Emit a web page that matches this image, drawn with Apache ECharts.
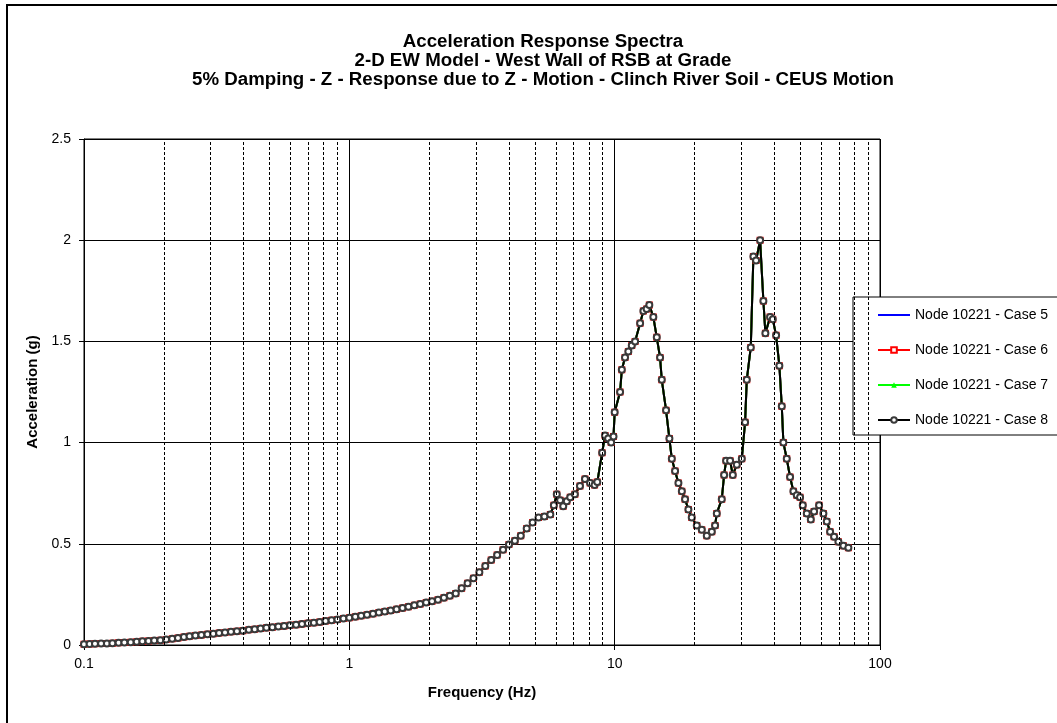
<!DOCTYPE html>
<html>
<head>
<meta charset="utf-8">
<script src="https://cdn.jsdelivr.net/npm/echarts@6/dist/echarts.min.js"></script>
<style>
html,body{margin:0;padding:0;background:#fff;}
#chart{width:1057px;height:723px;}
</style>
</head>
<body>
<div id="chart"></div>
<script>
const titleLines = [
  'Acceleration Response Spectra',
  '2-D EW Model - West Wall of RSB at Grade',
  '5% Damping - Z - Response due to Z - Motion - Clinch River Soil - CEUS Motion'
];
const seriesNames = ['Node 10221 - Case 5','Node 10221 - Case 6','Node 10221 - Case 7','Node 10221 - Case 8'];
const xTicks = [0.1, 1, 10, 100];
const yTicks = [0, 0.5, 1, 1.5, 2, 2.5];
const minorGrid = [0.2,0.3,0.4,0.5,0.6,0.7,0.8,0.9,2,3,4,5,6,7,8,9,20,30,40,50,60,70,80,90];

const freq = [
  0.100,0.105,0.110,0.116,0.122,0.128,0.135,0.142,0.150,0.158,0.166,0.175,0.184,0.194,
  0.204,0.215,0.226,0.238,0.250,0.263,0.277,0.292,0.307,0.323,0.340,0.358,0.377,0.397,
  0.418,0.440,0.463,0.487,0.513,0.540,0.568,0.598,0.630,0.663,0.698,0.735,0.773,0.814,
  0.857,0.902,0.950,1.000,1.053,1.108,1.166,1.228,1.292,1.360,1.432,1.507,1.587,1.670,
  1.758,1.850,1.948,2.050,2.158,2.272,2.392,2.518,2.650,2.790,2.937,3.091,3.254,3.425,
  3.606,3.796,3.996,4.206,4.427,4.660,4.906,5.164,5.436,5.722,5.900,6.050,6.230,6.400,
  6.600,6.800,7.080,7.400,7.730,8.080,8.400,8.600,8.970,9.200,9.450,9.700,9.900,10.00,
  10.48,10.64,10.94,11.26,11.60,11.94,12.47,12.83,13.20,13.51,13.99,14.41,14.83,15.05,
  15.62,16.08,16.42,16.89,17.39,17.91,18.42,18.96,19.52,20.39,21.30,22.24,23.23,23.90,
  24.26,25.33,25.85,26.30,27.23,27.87,28.86,30.14,31.01,31.47,32.58,33.33,34.12,35.33,
  36.35,36.99,38.52,39.43,40.59,41.76,42.64,43.24,44.52,45.82,47.16,48.57,49.97,51.16,
  52.97,54.85,56.44,58.94,61.19,63.02,64.85,67.14,69.70,72.79,76.00
];
const accel = [
  0.004,0.005,0.006,0.007,0.008,0.009,0.011,0.012,0.014,0.016,0.018,0.020,0.022,0.024,
  0.027,0.031,0.035,0.039,0.043,0.047,0.050,0.053,0.056,0.059,0.062,0.065,0.068,0.071,
  0.075,0.078,0.081,0.085,0.088,0.091,0.094,0.097,0.100,0.104,0.107,0.110,0.114,0.118,
  0.122,0.126,0.131,0.135,0.140,0.145,0.150,0.155,0.160,0.166,0.171,0.177,0.183,0.189,
  0.196,0.203,0.210,0.216,0.224,0.233,0.243,0.255,0.280,0.305,0.330,0.360,0.390,0.420,
  0.445,0.470,0.497,0.515,0.540,0.575,0.605,0.630,0.635,0.645,0.690,0.745,0.715,0.685,
  0.710,0.730,0.745,0.785,0.820,0.800,0.790,0.805,0.950,1.035,1.020,1.000,1.030,1.150,
  1.250,1.360,1.420,1.450,1.480,1.500,1.590,1.650,1.660,1.680,1.620,1.520,1.420,1.310,
  1.160,1.020,0.920,0.860,0.800,0.760,0.720,0.670,0.630,0.590,0.570,0.540,0.560,0.590,
  0.650,0.720,0.840,0.910,0.910,0.840,0.890,0.920,1.100,1.310,1.470,1.920,1.900,2.000,
  1.700,1.540,1.620,1.610,1.530,1.380,1.180,1.000,0.920,0.830,0.760,0.740,0.730,0.690,
  0.650,0.620,0.660,0.690,0.650,0.610,0.560,0.535,0.510,0.490,0.480
];

const pts = freq.map((f, i) => [f, accel[i]]);
const FONT = 'Liberation Sans, Arial, sans-serif';

const chart = echarts.init(document.getElementById('chart'), null, {renderer: 'canvas'});
chart.setOption({
  backgroundColor: '#fff',
  animation: false,
  textStyle: {fontFamily: FONT, color: '#000'},
  title: {
    text: titleLines.join('\n'),
    left: 538, top: 27, textAlign: 'center',
    textStyle: {fontFamily: FONT, fontSize: 18.7, fontWeight: 'bold', color: '#000', lineHeight: 19}
  },
  graphic: [{
    type: 'rect', shape: {x: 7, y: 5, width: 1070, height: 740},
    style: {fill: 'none', stroke: '#000', lineWidth: 2}, silent: true, z: 100
  }],
  legend: {
    orient: 'vertical', left: 853, top: 297,
    padding: [11, 14, 8, 24], itemGap: 21, itemWidth: 32, itemHeight: 7,
    borderColor: '#000', borderWidth: 1, backgroundColor: '#fff',
    textStyle: {fontFamily: FONT, fontSize: 14, color: '#000'},
    data: [
      {name: seriesNames[0], itemStyle: {opacity: 0}},
      {name: seriesNames[1]},
      {name: seriesNames[2]},
      {name: seriesNames[3]}
    ]
  },
  grid: {left: 84, right: 177, top: 139, bottom: 78, show: true, borderColor: '#000', borderWidth: 1},
  xAxis: {
    type: 'log', logBase: 10, min: xTicks[0], max: xTicks[xTicks.length - 1],
    name: 'Frequency (Hz)', nameLocation: 'middle', nameGap: 40,
    nameTextStyle: {fontFamily: FONT, fontSize: 15, fontWeight: 'bold', color: '#000'},
    axisLine: {lineStyle: {color: '#000', width: 1}},
    axisTick: {show: true, inside: false, length: 5, lineStyle: {color: '#000'}},
    axisLabel: {fontFamily: FONT, fontSize: 14, color: '#000', margin: 12,
      formatter: v => String(+v.toPrecision(6))},
    splitLine: {show: true, lineStyle: {color: '#000', width: 1}},
    minorTick: {show: false}
  },
  yAxis: {
    type: 'value', min: yTicks[0], max: yTicks[yTicks.length - 1], interval: 0.5,
    name: 'Acceleration (g)', nameLocation: 'middle', nameGap: 42,
    nameTextStyle: {fontFamily: FONT, fontSize: 15, fontWeight: 'bold', color: '#000'},
    axisLine: {show: true, lineStyle: {color: '#000', width: 1}},
    axisTick: {show: true, inside: false, length: 5, lineStyle: {color: '#000'}},
    axisLabel: {fontFamily: FONT, fontSize: 14, color: '#000', margin: 13},
    splitLine: {show: true, lineStyle: {color: '#000', width: 1}}
  },
  series: [
    {
      name: seriesNames[0], type: 'line', data: pts, symbol: 'none',
      lineStyle: {color: '#0000FF', width: 2}, itemStyle: {color: '#0000FF'},
      markLine: {
        silent: true, symbol: 'none', animation: false,
        label: {show: false},
        lineStyle: {color: '#000', width: 1, type: [3, 2]},
        data: minorGrid.map(v => ({xAxis: v}))
      }
    },
    {
      name: seriesNames[1], type: 'line', data: pts, symbol: 'emptyRect', symbolSize: 5,
      lineStyle: {color: '#FF0000', width: 2}, itemStyle: {color: '#FF0000', borderWidth: 1}
    },
    {
      name: seriesNames[2], type: 'line', data: pts, symbol: 'triangle', symbolSize: 4,
      lineStyle: {color: '#00FF00', width: 2}, itemStyle: {color: '#00FF00'}
    },
    {
      name: seriesNames[3], type: 'line', data: pts, symbol: 'emptyCircle', symbolSize: 6,
      lineStyle: {color: '#000', width: 2}, itemStyle: {color: '#3a3a3a', borderWidth: 1}
    }
  ]
});
</script>
</body>
</html>
